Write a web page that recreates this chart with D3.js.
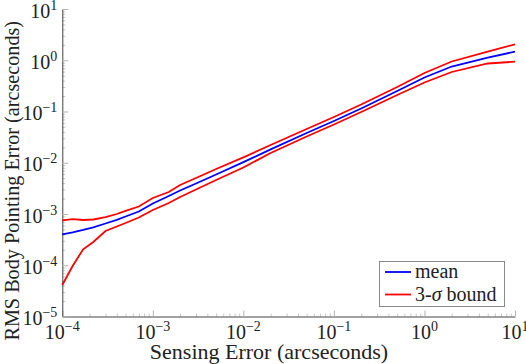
<!DOCTYPE html>
<html>
<head>
<meta charset="utf-8">
<script src="https://cdn.jsdelivr.net/npm/d3@7"></script>
<style>
  html, body { margin: 0; padding: 0; background: #fff; }
  svg { display: block; }
  text { font-family: "Liberation Serif", "Times New Roman", serif; fill: #222; }
</style>
</head>
<body>
<svg id="chart" width="526" height="364"></svg>
<script>
// ---- data ----
const sensingError = [1e-4, 1.3e-4, 1.7e-4, 2.2e-4, 3e-4, 4e-4, 5e-4, 7e-4, 1e-3, 1.5e-3, 2e-3, 3e-3, 5e-3,
                      1e-2, 2e-2, 5e-2, 0.1, 0.2, 0.5, 1, 2, 5, 10];
const meanError = [4.02e-4, 4.40e-4, 4.88e-4, 5.46e-4, 6.53e-4, 7.71e-4, 8.94e-4, 1.12e-3, 1.60e-3, 2.25e-3,
                   2.88e-3, 3.94e-3, 5.90e-3, 1.03e-2, 1.82e-2, 3.80e-2, 6.53e-2, 0.1145, 0.251, 0.460,
                   0.755, 1.13, 1.47];
const upperBound = [7.53e-4, 7.92e-4, 7.64e-4, 7.81e-4, 8.67e-4, 1.0e-3, 1.15e-3, 1.40e-3, 2.05e-3, 2.69e-3,
                    3.68e-3, 5.04e-3, 7.55e-3, 1.27e-2, 2.22e-2, 4.56e-2, 7.82e-2, 0.137, 0.301, 0.564,
                    0.946, 1.48, 2.05];
const lowerBound = [4.12e-5, 9.67e-5, 2.05e-4, 2.84e-4, 4.66e-4, 5.70e-4, 6.67e-4, 8.55e-4, 1.20e-3, 1.64e-3,
                    2.15e-3, 3.01e-3, 4.60e-3, 8.07e-3, 1.55e-2, 3.25e-2, 5.57e-2, 9.77e-2, 0.210, 0.368,
                    0.590, 0.865, 0.937];
const xTickExp = [-4, -3, -2, -1, 0, 1];
const yTickExp = [-5, -4, -3, -2, -1, 0, 1];
const legendLabels = ["mean", "3-σ bound"];
const colors = { mean: "#0000ff", bound: "#ff0000" };

const svg = d3.select("#chart");
const mLeft = 62.3, mRight = 515, mTop = 9, mBottom = 316.5;

const x = d3.scaleLog().domain([1e-4, 10]).range([mLeft, mRight]);
const y = d3.scaleLog().domain([1e-5, 10]).range([mBottom, mTop]);

// minor ticks
const minorX = [], minorY = [];
for (let e = -4; e < 1; e++) for (let m = 2; m <= 9; m++) minorX.push(m * Math.pow(10, e));
for (let e = -5; e < 1; e++) for (let m = 2; m <= 9; m++) minorY.push(m * Math.pow(10, e));

function styleAxis(g, color) {
  g.selectAll(".tick line").attr("stroke", color);
  g.selectAll(".tick text").remove();
}

svg.append("g").attr("transform", `translate(0,${mBottom})`)
  .call(d3.axisBottom(x).tickValues(minorX).tickSize(-3).tickFormat(""))
  .call(g => { g.select(".domain").remove(); styleAxis(g, "#c8c8c8"); });
svg.append("g").attr("transform", `translate(${mLeft},0)`)
  .call(d3.axisLeft(y).tickValues(minorY).tickSize(-3).tickFormat(""))
  .call(g => { g.select(".domain").remove(); styleAxis(g, "#c8c8c8"); });

svg.append("g").attr("transform", `translate(0,${mBottom})`)
  .call(d3.axisBottom(x).tickValues(xTickExp.map(e => Math.pow(10, e))).tickSize(-6).tickSizeOuter(0).tickFormat(""))
  .call(g => { styleAxis(g, "#b4b4b4"); g.select(".domain").attr("stroke", "#444").attr("stroke-width", 1); });
svg.append("g").attr("transform", `translate(${mLeft},0)`)
  .call(d3.axisLeft(y).tickValues(yTickExp.map(e => Math.pow(10, e))).tickSize(-6).tickSizeOuter(0).tickFormat(""))
  .call(g => { styleAxis(g, "#b4b4b4"); g.select(".domain").attr("stroke", "#444").attr("stroke-width", 1); });

function powLabel(sel, e) {
  sel.append("tspan").text("10");
  sel.append("tspan").attr("dy", -8).attr("font-size", 14).text(e < 0 ? "\u2212" + (-e) : String(e));
}

// x tick labels
xTickExp.forEach(e => {
  const t = svg.append("text").attr("x", x(Math.pow(10, e))).attr("y", mBottom + 22)
    .attr("text-anchor", "middle").attr("font-size", 20);
  powLabel(t, e);
});
// y tick labels
yTickExp.forEach(e => {
  const t = svg.append("text").attr("x", mLeft - 5).attr("y", y(Math.pow(10, e)) + 8.5)
    .attr("text-anchor", "end").attr("font-size", 20);
  powLabel(t, e);
});

// axis titles
svg.append("text").attr("x", 269).attr("y", 358.5)
  .attr("text-anchor", "middle").attr("font-size", 22).text("Sensing Error (arcseconds)");
svg.append("text").attr("transform", `translate(19,${(mTop + mBottom) / 2 + 18}) rotate(-90)`)
  .attr("text-anchor", "middle").attr("font-size", 20.2).text("RMS Body Pointing Error (arcseconds)");

// lines
const line = vals => d3.line().x((d, i) => x(sensingError[i])).y(d => y(d))(vals);
svg.append("path").attr("d", line(upperBound)).attr("fill", "none").attr("stroke", colors.bound).attr("stroke-width", 1.8);
svg.append("path").attr("d", line(lowerBound)).attr("fill", "none").attr("stroke", colors.bound).attr("stroke-width", 1.8);
svg.append("path").attr("d", line(meanError)).attr("fill", "none").attr("stroke", colors.mean).attr("stroke-width", 1.8);

// legend
const lg = svg.append("g");
lg.append("rect").attr("x", 379.5).attr("y", 261.5).attr("width", 125).attr("height", 45)
  .attr("fill", "#fff").attr("stroke", "#888").attr("stroke-width", 1);
[colors.mean, colors.bound].forEach((c, i) => {
  const yy = 272 + i * 22.5;
  lg.append("line").attr("x1", 385).attr("x2", 411).attr("y1", yy).attr("y2", yy)
    .attr("stroke", c).attr("stroke-width", 1.8);
});
lg.append("text").attr("x", 415).attr("y", 278).attr("font-size", 20).text(legendLabels[0]);
const t2 = lg.append("text").attr("x", 415).attr("y", 300.5).attr("font-size", 20);
t2.append("tspan").text("3-");
t2.append("tspan").attr("font-style", "italic").text("σ");
t2.append("tspan").text(" bound");
</script>
</body>
</html>
